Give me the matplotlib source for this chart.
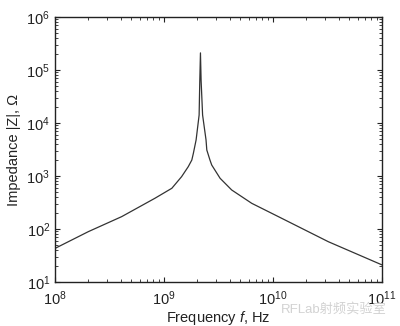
import numpy as np
import matplotlib
matplotlib.use('Agg')
import matplotlib.pyplot as plt
from matplotlib.ticker import LogLocator, FixedLocator, FixedFormatter, NullFormatter

plt.rcParams['font.family'] = ['Liberation Sans', 'Noto Sans CJK SC', 'DejaVu Sans']
plt.rcParams['mathtext.fontset'] = 'custom'
plt.rcParams['mathtext.rm'] = 'Liberation Sans'
plt.rcParams['mathtext.it'] = 'Liberation Sans:italic'

# values
freq = [1e8, 2.02e8, 4.09e8, 8.26e8, 1.18e9, 1.45e9, 1.67e9, 1.80e9, 1.86e9, 1.97e9,
        2.10e9, 2.13e9, 2.16e9, 2.19e9, 2.26e9, 2.43e9, 2.47e9, 2.64e9, 2.74e9,
        3.27e9, 4.18e9, 6.38e9, 1.12e10, 3.22e10, 1e11]
imp = [43, 89, 171, 380, 586, 970, 1500, 2000, 2680, 4780,
       14100, 63000, 210000, 63000, 14100, 4780, 3090, 2000, 1610,
       905, 544, 305, 171, 57.5, 21]

xticks = [1e8, 1e9, 1e10, 1e11]
xticklabels = ['$10^{8}$', '$10^{9}$', '$10^{10}$', '$10^{11}$']
yticks = [1e1, 1e2, 1e3, 1e4, 1e5, 1e6]
yticklabels = ['$10^{1}$', '$10^{2}$', '$10^{3}$', '$10^{4}$', '$10^{5}$', '$10^{6}$']

fig = plt.figure(figsize=(4.0, 3.26), dpi=100)
ax = fig.add_axes([0.1375, 0.135, 0.8175, 0.813])

ax.loglog(freq, imp, color='#333333', lw=0.9)

ax.set_xlim(1e8, 1e11)
ax.set_ylim(1e1, 1e6)
ax.xaxis.set_major_locator(FixedLocator(xticks))
ax.xaxis.set_major_formatter(FixedFormatter(xticklabels))
ax.yaxis.set_major_locator(FixedLocator(yticks))
ax.yaxis.set_major_formatter(FixedFormatter(yticklabels))
ax.xaxis.set_minor_locator(LogLocator(base=10, subs=np.arange(2, 10), numticks=20))
ax.yaxis.set_minor_locator(LogLocator(base=10, subs=np.arange(2, 10), numticks=20))
ax.xaxis.set_minor_formatter(NullFormatter())
ax.yaxis.set_minor_formatter(NullFormatter())

ax.tick_params(which='both', direction='in', top=True, right=True,
               labelsize=10.5, colors='#222222')
ax.tick_params(which='major', length=3.5, width=0.8)
ax.tick_params(which='minor', length=2, width=0.6)
ax.tick_params(axis='x', pad=5)
for s in ax.spines.values():
    s.set_color('#222222')
    s.set_linewidth(1.0)

ax.set_xlabel('Frequency $\\mathit{f}$, Hz', fontsize=10.5, color='#222222', labelpad=1)
ax.set_ylabel('Impedance |Z|, Ω', fontsize=10.5, color='#222222', labelpad=4)

fig.text(0.835, 0.052, 'RFLab射频实验室', fontsize=9.5, color='#d2d2d2', ha='center', va='center')

fig.savefig('out.png', dpi=100)
